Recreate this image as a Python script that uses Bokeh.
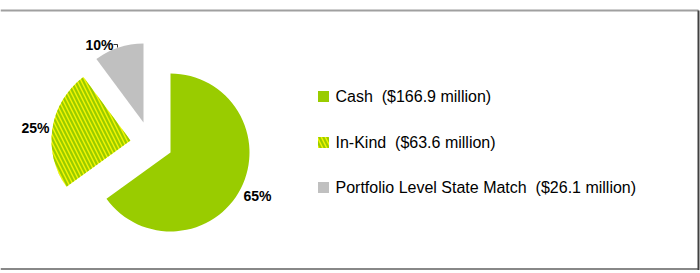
import numpy as np
from bokeh.plotting import figure
from bokeh.models import Range1d
from bokeh.core.properties import value
from bokeh.embed import file_html
from bokeh.resources import INLINE

# ---- data ----
categories = ["Cash", "In-Kind", "Portfolio Level State Match"]
amounts = [166.9, 63.6, 26.1]          # $ million
pct_labels = ["65%", "25%", "10%"]
legend_labels = ["Cash\u00a0\u00a0($166.9 million)",
                 "In-Kind\u00a0\u00a0($63.6 million)",
                 "Portfolio Level State Match\u00a0\u00a0($26.1 million)"]

# ---- styles / layout ----
fill_colors = ["#99CC00", "#F5F500", "#C0C0C0"]
hatch_patterns = [None, "left_diagonal_line", None]
hatch_color = "#99CC00"
W, H = 700, 273
FONT = "Liberation Sans"

p = figure(width=W, height=H, x_range=Range1d(0, W), y_range=Range1d(0, H),
           output_backend="svg", toolbar_location=None,
           x_axis_location=None, y_axis_location=None, min_border=0)
p.grid.visible = False
p.outline_line_color = None
p.background_fill_color = "white"
p.border_fill_color = "white"


def Y(py):
    return H - py


# pie geometry (pixel layout)
cx, cy, R = 170, 152, 79
explode = [(0, 0), (-40, -12), (-27, -30)]
label_pos = [(257, 195), (35, 127), (99, 44)]

fr = np.array(amounts) / sum(amounts)
cum = np.concatenate([[0], np.cumsum(fr)])
starts = np.pi / 2 - 2 * np.pi * cum[:-1]
ends = np.pi / 2 - 2 * np.pi * cum[1:]

HATCH = dict(hatch_color=hatch_color, hatch_weight=2.2, hatch_scale=8)

for i in range(len(amounts)):
    ox, oy = explode[i]
    kw = dict(x=cx + ox, y=Y(cy + oy), radius=R,
              start_angle=starts[i], end_angle=ends[i], direction="clock",
              fill_color=fill_colors[i], line_color=None)
    if hatch_patterns[i]:
        kw.update(hatch_pattern=hatch_patterns[i], **HATCH)
    p.wedge(**kw)
    lx, ly = label_pos[i]
    p.text(x=[lx], y=[Y(ly)], text=[pct_labels[i]], text_font=value(FONT),
           text_font_size="14px", text_font_style="bold", text_color="#000000",
           text_align="center", text_baseline="middle")

# small leader hook beside the 10% label
lx, ly = label_pos[2]
p.line(x=[lx + 14, lx + 18, lx + 18], y=[Y(ly), Y(ly), Y(ly + 3)],
       line_color="#000000", line_width=0.8)

# legend
leg_x, leg_rows, sq = 323, [96, 142, 187], 11
for i in range(len(legend_labels)):
    kw = dict(x=leg_x, y=Y(leg_rows[i]), width=sq, height=sq,
              fill_color=fill_colors[i], line_color=None)
    if hatch_patterns[i]:
        kw.update(hatch_pattern=hatch_patterns[i], **HATCH)
    p.rect(**kw)
    p.text(x=[leg_x + 12], y=[Y(leg_rows[i])], text=[legend_labels[i]],
           text_font=value(FONT), text_font_size="16px", text_color="#000000",
           text_align="left", text_baseline="middle")

# frame lines
p.segment(x0=[0], y0=[Y(10)], x1=[698], y1=[Y(10)], line_color="#A0A0A0", line_width=2)
p.segment(x0=[0], y0=[Y(268.5)], x1=[698], y1=[Y(268.5)], line_color="#888888", line_width=2)
p.segment(x0=[698], y0=[Y(10)], x1=[698], y1=[Y(269.5)], line_color="#404040", line_width=2)

open("out.html", "w").write(file_html(p, INLINE))
